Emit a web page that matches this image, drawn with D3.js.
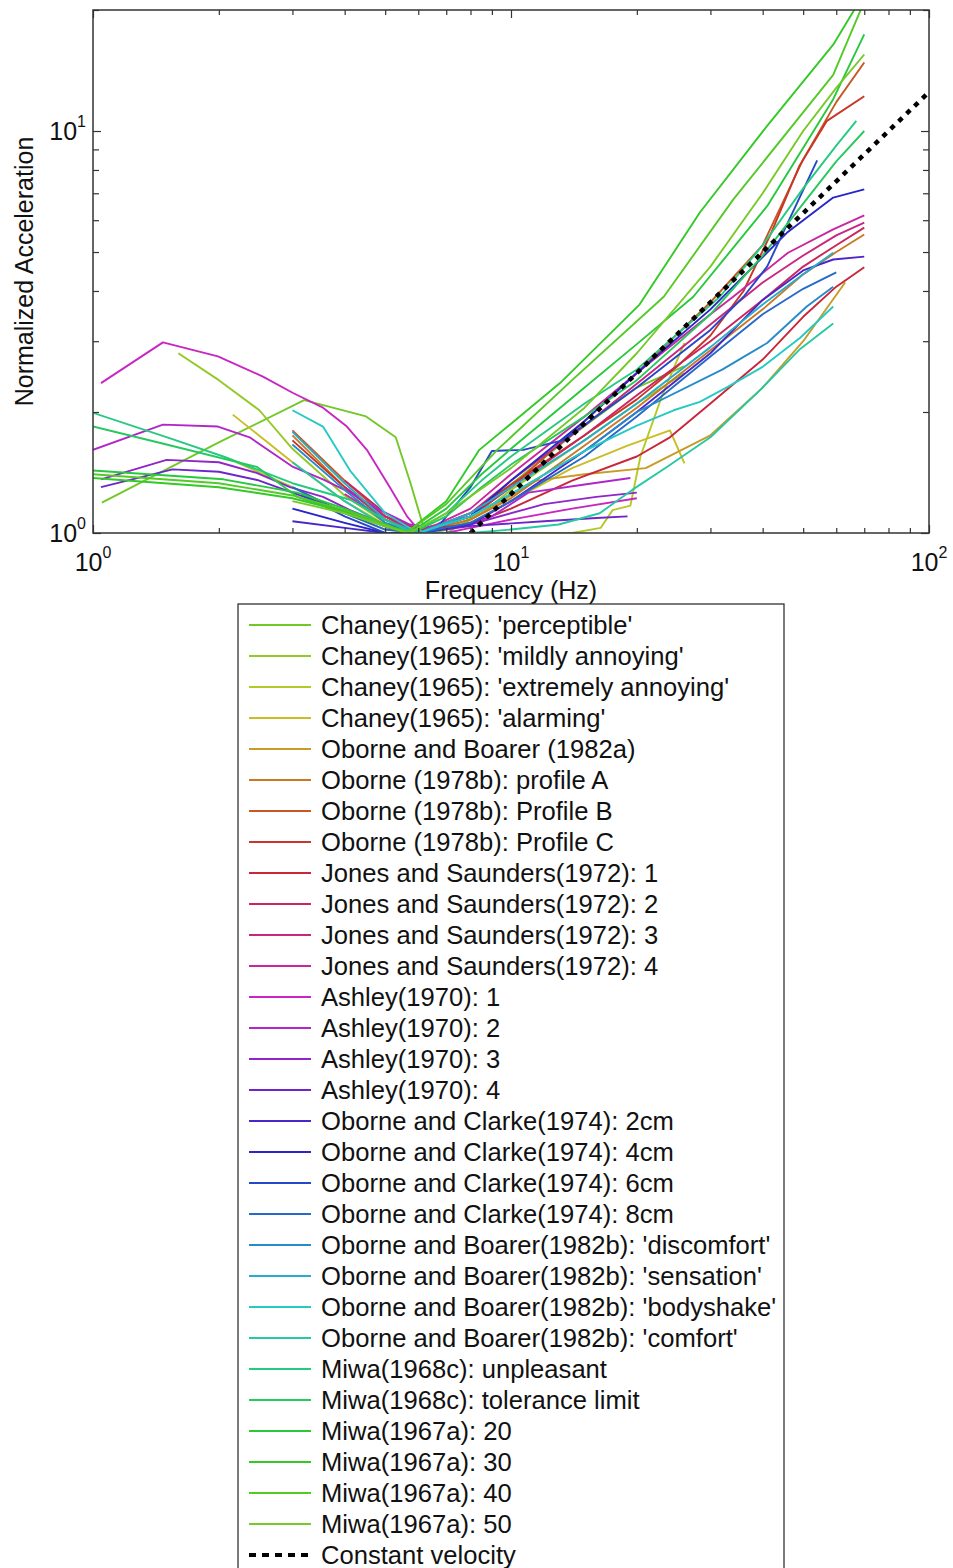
<!DOCTYPE html>
<html>
<head>
<meta charset="utf-8">
<script src="https://cdn.jsdelivr.net/npm/d3@7"></script>
<style>
  body { margin: 0; background: #fff; }
  text { font-family: "Liberation Sans", Arial, Helvetica, sans-serif; fill: #111; }
</style>
</head>
<body>
<svg id="chart" width="953" height="1568"></svg>
<script>
// ---- data: [frequency (Hz), normalized acceleration] ----
const chaneyPerceptible = [[1.05,1.19],[2,1.68],[3.2,2.14],[4.5,1.95],[5.3,1.73],[5.75,1.33],[6.2,1.02],[7,1.0],[8,1.08],[10,1.32],[14,1.75],[20,2.3],[26,2.6]];
const chaneyMildly = [[1.6,2.8],[2,2.4],[2.5,2.02],[3,1.62],[4,1.24],[5,1.06],[6,1.0],[7,1.02],[8.5,1.12],[10,1.28],[14,1.62],[20,2.1],[26,2.5]];
const chaneyExtremely = [[2.2,1.5],[3,1.3],[4,1.12],[5,1.02],[6,1.0],[8,1.0],[10,1.0],[14,1.0],[16.4,1.03],[17.5,1.14],[19.3,1.17],[20.4,1.55],[23,2.2],[26,2.97]];
const chaneyAlarming = [[2.16,1.97],[3,1.5],[4,1.2],[5,1.05],[6,1.0],[8,1.06],[10,1.2],[14,1.45],[19,1.65],[24,1.8],[26,1.49]];
const oborneBoarer1982a = [[5,1.1],[6,1.0],[8,1.08],[11.5,1.35],[15,1.4],[21,1.45],[30,1.75],[40,2.3],[50,3.0],[63,4.2]];
const oborneProfileA = [[3,1.75],[4,1.3],[5,1.08],[6,1.0],[8,1.08],[10,1.22],[15,1.65],[20,2.05],[30,2.85],[40,3.6],[50,4.4],[60,5.0],[70,5.53]];
const oborneProfileB = [[3,1.8],[4,1.35],[5,1.1],[6,1.0],[8,1.1],[10,1.3],[15,1.9],[20,2.5],[30,3.75],[40,5.2],[50,8.5],[60,11.8],[70,14.8]];
const oborneProfileC = [[3,1.7],[4,1.3],[5,1.08],[6,1.0],[8,1.12],[10,1.32],[15,1.75],[20,2.15],[25,2.6],[30,3.1],[36,4.0],[42,5.6],[49,8.2],[57,10.6],[70,12.2]];
const jones1 = [[4,1.3],[5,1.1],[6,1.02],[8,1.05],[10,1.15],[14,1.35],[20,1.55],[24,1.73],[30,2.1],[40,2.7],[50,3.45],[60,4.1],[70,4.58]];
const jones2 = [[4,1.35],[5,1.12],[6,1.02],[8,1.1],[10,1.3],[15,1.75],[20,2.2],[30,3.0],[40,3.8],[50,4.6],[60,5.2],[70,5.75]];
const jones3 = [[4,1.3],[5,1.1],[6,1.0],[8,1.12],[10,1.35],[15,1.85],[20,2.35],[30,3.3],[40,4.2],[50,4.9],[60,5.5],[70,5.92]];
const jones4 = [[4,1.25],[5,1.08],[6,1.0],[8,1.15],[10,1.4],[15,1.95],[20,2.5],[30,3.5],[34,3.87],[46,4.98],[59,5.69],[70,6.17]];
const ashley1 = [[1.045,2.36],[1.47,2.98],[1.99,2.75],[2.55,2.45],[3.01,2.23],[3.55,2.05],[4.05,1.84],[4.52,1.61],[5.13,1.3],[5.64,1.1],[6.1,1.0],[7,1.0],[8,1.03],[10,1.08],[14,1.15],[20,1.22]];
const ashley2 = [[1,1.61],[1.47,1.86],[1.99,1.84],[2.37,1.73],[3.01,1.46],[3.55,1.36],[4.12,1.26],[4.86,1.14],[5.73,1.05],[7,1.02],[9,1.1],[11,1.26],[15,1.32],[19.3,1.37]];
const ashley3 = [[1.045,1.36],[1.5,1.52],[2,1.5],[2.47,1.41],[2.96,1.3],[3.55,1.23],[4.12,1.14],[5,1.05],[6,1.0],[8,1.05],[12,1.18],[16,1.23],[20,1.26]];
const ashley4 = [[1.045,1.3],[1.55,1.44],[2,1.42],[2.47,1.355],[3,1.26],[4.12,1.12],[5.1,1.03],[6,1.0],[8,1.04],[12,1.07],[16,1.09],[19,1.1]];
const oborneClarke2 = [[3,1.07],[4,1.03],[5,1.0],[6,1.0],[8,1.05],[10,1.2],[15,1.6],[20,2.0],[30,2.8],[40,3.8],[50,4.5],[59,4.79],[70,4.87]];
const oborneClarke4 = [[3,1.15],[4,1.06],[5,1.0],[6,1.0],[8,1.1],[10,1.35],[15,1.9],[20,2.5],[30,3.6],[45.7,5.58],[59,6.83],[70,7.16]];
const oborneClarke6 = [[3.15,1.25],[4,1.1],[5,1.0],[6.5,1.0],[8,1.3],[9,1.6],[10.7,1.61],[13.3,1.7],[20,2.3],[30,3.2],[36,3.87],[41,4.6],[54,8.45]];
const oborneClarke8 = [[3,1.3],[4,1.12],[5,1.02],[6,1.0],[8,1.06],[10,1.2],[15,1.55],[20,1.95],[30,2.75],[40,3.5],[50,4.05],[60,4.45]];
const obDiscomfort = [[3,1.66],[4,1.28],[5,1.06],[6,1.0],[8,1.1],[10,1.25],[15,1.6],[20,2.0],[32,2.55],[41,2.97],[51,3.66],[59,4.1]];
const obSensation = [[3,1.785],[4,1.33],[5,1.08],[6,1.0],[8,1.12],[10,1.3],[15,1.7],[20,2.1],[30,2.9],[40,3.7],[50,4.4],[59,4.98]];
const obBodyshake = [[3,2.02],[3.55,1.84],[4.12,1.43],[5,1.12],[6,1.0],[8,1.1],[10,1.25],[15,1.6],[20,1.85],[24.5,2.02],[28.3,2.12],[33,2.31],[40,2.59],[49.2,3.06],[59,3.66]];
const obComfort = [[3,1.5],[4,1.2],[5,1.04],[6,1.0],[8,1.0],[10,1.02],[13,1.05],[16.3,1.12],[19.5,1.28],[23.6,1.46],[30,1.73],[39.5,2.27],[49,2.86],[59,3.32]];
const miwaUnpleasant = [[1,1.99],[1.53,1.72],[2.05,1.55],[3,1.33],[4.12,1.21],[5,1.08],[5.8,1.0],[7,1.12],[8.5,1.35],[10,1.55],[15,2.1],[20,2.55],[31.6,3.87],[40,5.2],[50,7.2],[60,9.2],[67,10.6]];
const miwaTolerance = [[1,1.84],[1.5,1.66],[2.47,1.46],[3.08,1.23],[4,1.12],[5,1.04],[5.8,1.0],[7,1.1],[8.5,1.3],[10,1.48],[15,1.95],[20,2.4],[30,3.5],[40,4.9],[50,6.6],[60,8.4],[70,10.0]];
const miwa20 = [[1,1.43],[2.05,1.36],[3.08,1.26],[4,1.15],[5,1.05],[5.7,1.0],[7,1.15],[8.5,1.4],[10,1.62],[15,2.3],[20,2.95],[27.3,3.87],[41,6.5],[59,12.0],[70,17.4]];
const miwa30 = [[1,1.37],[2,1.3],[3,1.22],[4,1.13],[5,1.04],[5.6,1.0],[7,1.2],[8.4,1.61],[13.1,2.36],[20.3,3.7],[28.3,6.27],[41,10.3],[59,16.4],[70,22]];
const miwa40 = [[1,1.4],[2,1.33],[3,1.24],[4,1.14],[5,1.05],[5.6,1.0],[7,1.18],[9.27,1.61],[14,2.4],[23.2,3.87],[34,6.75],[59,13.8],[70,21]];
const miwa50 = [[3,1.2],[4,1.12],[5,1.04],[5.7,1.0],[7,1.12],[10,1.45],[15,2.05],[20,2.8],[30,4.6],[40,7.0],[50,10.0],[60,12.8],[70,15.5]];
const constantVelocity = [[8,1],[100,12.5]];

const seriesNames = [
  "Chaney(1965): 'perceptible'", "Chaney(1965): 'mildly annoying'",
  "Chaney(1965): 'extremely annoying'", "Chaney(1965): 'alarming'",
  "Oborne and Boarer (1982a)", "Oborne (1978b): profile A",
  "Oborne (1978b): Profile B", "Oborne (1978b): Profile C",
  "Jones and Saunders(1972): 1", "Jones and Saunders(1972): 2",
  "Jones and Saunders(1972): 3", "Jones and Saunders(1972): 4",
  "Ashley(1970): 1", "Ashley(1970): 2", "Ashley(1970): 3", "Ashley(1970): 4",
  "Oborne and Clarke(1974): 2cm", "Oborne and Clarke(1974): 4cm",
  "Oborne and Clarke(1974): 6cm", "Oborne and Clarke(1974): 8cm",
  "Oborne and Boarer(1982b): 'discomfort'", "Oborne and Boarer(1982b): 'sensation'",
  "Oborne and Boarer(1982b): 'bodyshake'", "Oborne and Boarer(1982b): 'comfort'",
  "Miwa(1968c): unpleasant", "Miwa(1968c): tolerance limit",
  "Miwa(1967a): 20", "Miwa(1967a): 30", "Miwa(1967a): 40", "Miwa(1967a): 50"
];
const seriesValues = [
  chaneyPerceptible, chaneyMildly, chaneyExtremely, chaneyAlarming,
  oborneBoarer1982a, oborneProfileA, oborneProfileB, oborneProfileC,
  jones1, jones2, jones3, jones4,
  ashley1, ashley2, ashley3, ashley4,
  oborneClarke2, oborneClarke4, oborneClarke6, oborneClarke8,
  obDiscomfort, obSensation, obBodyshake, obComfort,
  miwaUnpleasant, miwaTolerance, miwa20, miwa30, miwa40, miwa50
];
const referenceName = "Constant velocity";
const xMajorTicks = [1, 10, 100];
const xMinorTicks = [2,3,4,5,6,7,8,9,20,30,40,50,60,70,80,90];
const yMajorTicks = [1, 10];
const yMinorTicks = [2,3,4,5,6,7,8,9,20];
const xTickExponents = ["0", "1", "2"];
const yTickExponents = ["0", "1"];

// ---- layout ----
const svg = d3.select("#chart");
const plot = { left: 93, right: 929, top: 10, bottom: 533 };
const x = d3.scaleLog().domain([1, 100]).range([plot.left, plot.right]);
const y = d3.scaleLog().domain([1, 20]).range([plot.bottom, plot.top]);

// hue wheel running from yellow-green through red, magenta, blue, cyan back to green
const color = i => d3.hsl((93 - i * 12.5 + 720) % 360, 0.68, 0.47).formatHex();

svg.append("defs").append("clipPath").attr("id", "plotClip")
  .append("rect")
  .attr("x", plot.left).attr("y", plot.top)
  .attr("width", plot.right - plot.left).attr("height", plot.bottom - plot.top);

const line = d3.line().x(d => x(d[0])).y(d => y(d[1]));

const lines = svg.append("g").attr("clip-path", "url(#plotClip)");
seriesValues.forEach((vals, i) => {
  lines.append("path")
    .attr("d", line(vals))
    .attr("fill", "none")
    .attr("stroke", color(i))
    .attr("stroke-width", 1.9)
    .attr("stroke-linejoin", "round");
});
lines.append("path")
  .attr("d", line(constantVelocity))
  .attr("fill", "none")
  .attr("stroke", "#000")
  .attr("stroke-width", 4.5)
  .attr("stroke-dasharray", "5,6");

// ---- axes (ticks point inward on all four sides) ----
function addAxis(axisFn, scale, transform, ticks, size) {
  const g = svg.append("g").attr("transform", transform)
    .call(axisFn(scale).tickValues(ticks).tickSize(size).tickFormat(""));
  g.select(".domain").remove();
  g.selectAll(".tick line").attr("stroke", "#333").attr("stroke-width", 1.2);
}
addAxis(d3.axisBottom, x, `translate(0,${plot.bottom})`, xMajorTicks, -8);
addAxis(d3.axisBottom, x, `translate(0,${plot.bottom})`, xMinorTicks, -5);
addAxis(d3.axisTop, x, `translate(0,${plot.top})`, xMajorTicks, -8);
addAxis(d3.axisTop, x, `translate(0,${plot.top})`, xMinorTicks, -5);
addAxis(d3.axisLeft, y, `translate(${plot.left},0)`, yMajorTicks, -8);
addAxis(d3.axisLeft, y, `translate(${plot.left},0)`, yMinorTicks, -6);
addAxis(d3.axisRight, y, `translate(${plot.right},0)`, yMajorTicks, -8);
addAxis(d3.axisRight, y, `translate(${plot.right},0)`, yMinorTicks, -6);

svg.append("rect")
  .attr("x", plot.left).attr("y", plot.top)
  .attr("width", plot.right - plot.left).attr("height", plot.bottom - plot.top)
  .attr("fill", "none").attr("stroke", "#333").attr("stroke-width", 1.5);

// tick labels as 10 with a superscript exponent
xMajorTicks.forEach((t, i) => {
  const tx = svg.append("text").attr("x", x(t)).attr("y", 571)
    .attr("text-anchor", "middle").attr("font-size", 25).text("10");
  tx.append("tspan").attr("dy", -13).attr("font-size", 16).text(xTickExponents[i]);
});
yMajorTicks.forEach((t, i) => {
  const ty = svg.append("text").attr("x", 86).attr("y", y(t) + 9)
    .attr("text-anchor", "end").attr("font-size", 25).text("10");
  ty.append("tspan").attr("dy", -13).attr("font-size", 16).text(yTickExponents[i]);
});

svg.append("text").attr("x", (plot.left + plot.right) / 2).attr("y", 599)
  .attr("text-anchor", "middle").attr("font-size", 25).text("Frequency (Hz)");
svg.append("text")
  .attr("transform", `translate(33,${(plot.top + plot.bottom) / 2}) rotate(-90)`)
  .attr("text-anchor", "middle").attr("font-size", 25).text("Normalized Acceleration");

// ---- legend ----
const legend = svg.append("g");
legend.append("rect")
  .attr("x", 238).attr("y", 604).attr("width", 546).attr("height", 1000)
  .attr("fill", "#fff").attr("stroke", "#222").attr("stroke-width", 1.2);
const rowY = i => 625 + 31 * i;
seriesNames.forEach((name, i) => {
  legend.append("line").attr("x1", 249).attr("x2", 311)
    .attr("y1", rowY(i)).attr("y2", rowY(i))
    .attr("stroke", color(i)).attr("stroke-width", 2);
  legend.append("text").attr("x", 321).attr("y", rowY(i) + 9)
    .attr("font-size", 25.6).text(name);
});
const k = seriesNames.length;
legend.append("line").attr("x1", 249).attr("x2", 311)
  .attr("y1", rowY(k)).attr("y2", rowY(k))
  .attr("stroke", "#000").attr("stroke-width", 4).attr("stroke-dasharray", "7,6");
legend.append("text").attr("x", 321).attr("y", rowY(k) + 9)
  .attr("font-size", 25.6).text(referenceName);
</script>
</body>
</html>
